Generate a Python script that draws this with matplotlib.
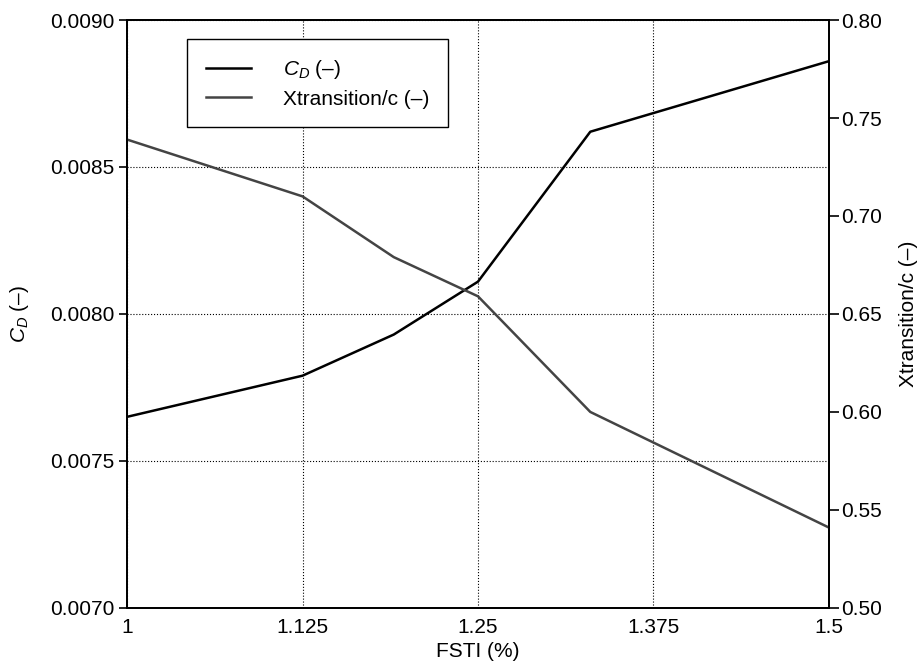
import matplotlib
matplotlib.use('Agg')
import matplotlib.pyplot as plt
from matplotlib.ticker import FormatStrFormatter

plt.rcParams['font.family'] = ['Liberation Sans', 'DejaVu Sans']
plt.rcParams['mathtext.fontset'] = 'custom'
plt.rcParams['mathtext.it'] = 'Liberation Sans:italic'
plt.rcParams['mathtext.rm'] = 'Liberation Sans'

# values
fsti = [1.0, 1.125, 1.19, 1.25, 1.33, 1.5]
cd = [0.00765, 0.00779, 0.00793, 0.00811, 0.00862, 0.00886]
xtr = [0.739, 0.710, 0.679, 0.659, 0.600, 0.541]

x_ticks = [1, 1.125, 1.25, 1.375, 1.5]
x_tick_labels = ['1', '1.125', '1.25', '1.375', '1.5']
cd_ticks = [0.0070, 0.0075, 0.0080, 0.0085, 0.0090]
xtr_ticks = [0.50, 0.55, 0.60, 0.65, 0.70, 0.75, 0.80]

fs = 15

fig = plt.figure(figsize=(9.21, 6.68), dpi=100)
ax = fig.add_axes([0.138, 0.090, 0.762, 0.880])
ax2 = ax.twinx()

l1, = ax.plot(fsti, cd, color='black', lw=1.8, label='$C_D$ (–)')
l2, = ax2.plot(fsti, xtr, color='#444444', lw=1.8, label='Xtransition/c (–)')

ax.set_xlim(1, 1.5)
ax.set_ylim(0.0070, 0.0090)
ax2.set_ylim(0.50, 0.80)
ax.set_xticks(x_ticks)
ax.set_xticklabels(x_tick_labels)
ax.set_yticks(cd_ticks)
ax2.set_yticks(xtr_ticks)
ax.yaxis.set_major_formatter(FormatStrFormatter('%.4f'))
ax2.yaxis.set_major_formatter(FormatStrFormatter('%.2f'))

ax.grid(True, linestyle=':', color='black', lw=0.8)
ax.tick_params(axis='y', direction='out', length=6, width=1.2, labelsize=fs, pad=3)
ax.tick_params(axis='x', length=0, labelsize=fs, pad=7)
ax2.tick_params(axis='y', direction='out', length=7, width=1.2, labelsize=fs, pad=2)
for a in (ax, ax2):
    for s in a.spines.values():
        s.set_linewidth(1.3)

ax.set_xlabel('FSTI (%)', fontsize=fs, labelpad=4)
ax.set_ylabel('$C_D$ (–)', fontsize=fs, labelpad=14)
ax2.set_ylabel('Xtransition/c (–)', fontsize=fs, labelpad=12)

leg = ax.legend(handles=[l1, l2], loc='upper left', bbox_to_anchor=(0.085, 0.967),
                fontsize=fs, fancybox=False, edgecolor='black', framealpha=1,
                borderpad=0.9, handlelength=2.2, handletextpad=1.5, labelspacing=0.4,
                borderaxespad=0)
leg.get_frame().set_linewidth(1.0)

fig.savefig('out.png', dpi=100)
